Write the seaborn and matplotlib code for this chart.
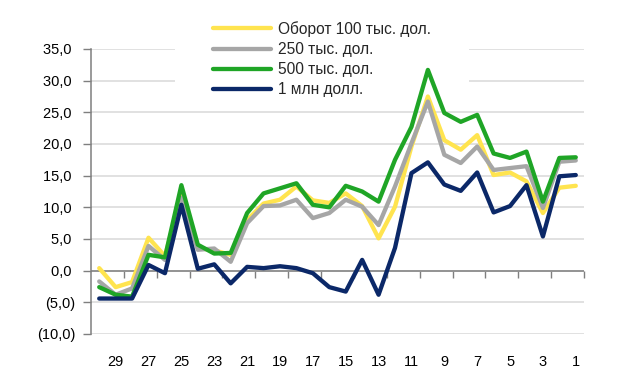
import numpy as np
import pandas as pd
import matplotlib
matplotlib.use('Agg')
import matplotlib.pyplot as plt
import seaborn as sns
from matplotlib.patches import Rectangle

# weeks counted backwards, 30 -> 1
periods = list(range(30, 0, -1))

turnover_100k = [0.4, -2.6, -1.8, 5.2, 2.3, 12.0, 3.6, 3.2, 2.5, 8.0,
                 10.6, 11.2, 13.3, 11.1, 10.7, 12.2, 10.2, 5.1, 10.1, 19.6,
                 27.5, 20.6, 19.1, 21.4, 15.1, 15.5, 14.1, 9.1, 13.1, 13.4]
turnover_250k = [-1.7, -3.8, -2.8, 3.9, 1.7, 11.5, 3.3, 3.5, 1.4, 7.5,
                 10.2, 10.3, 11.2, 8.3, 9.1, 11.2, 10.1, 7.2, 13.3, 20.1,
                 26.7, 18.3, 17.0, 19.6, 15.9, 16.2, 16.5, 9.9, 17.2, 17.4]
turnover_500k = [-2.6, -3.8, -4.1, 2.5, 2.1, 13.5, 4.1, 2.7, 2.8, 9.1,
                 12.2, 13.0, 13.8, 10.4, 10.0, 13.4, 12.5, 10.9, 17.5, 22.7,
                 31.7, 24.9, 23.5, 24.6, 18.5, 17.8, 18.8, 10.9, 17.8, 17.9]
turnover_1m = [-4.4, -4.4, -4.4, 0.9, -0.4, 10.4, 0.3, 1.0, -2.0, 0.6,
               0.4, 0.7, 0.4, -0.4, -2.6, -3.3, 1.7, -3.8, 3.6, 15.4,
               17.1, 13.6, 12.6, 15.5, 9.2, 10.2, 13.5, 5.4, 14.9, 15.1]

labels = ['Оборот 100 тыс. дол.', '250 тыс. дол.', '500 тыс. дол.', '1 млн долл.']
colors = ['#FFE44F', '#A6A6A6', '#1FA526', '#0B2868']
yticks = list(range(-10, 40, 5))

series = [turnover_100k, turnover_250k, turnover_500k, turnover_1m]
df = pd.concat([pd.DataFrame({'pos': np.arange(len(periods)), 'period': periods,
                              'value': vals, 'series': lab})
                for vals, lab in zip(series, labels)], ignore_index=True)

sns.set_style('white')
plt.rcParams['font.family'] = ['Liberation Sans', 'DejaVu Sans']

fig = plt.figure(figsize=(6.3, 3.8), dpi=100)
ax = fig.add_axes([91/630, 1 - 334/380, (584 - 91)/630, (334 - 49)/380])

sns.lineplot(data=df, x='pos', y='value', hue='series', hue_order=labels,
             palette=colors, linewidth=3.1, ax=ax, legend=False, zorder=3)

ax.set_xlim(-0.5, len(periods) - 0.5)
ax.set_ylim(-10, 35)
ax.set_yticks(yticks)
ax.set_yticklabels([f'{v:.1f} '.replace('.', ',') if v >= 0 else
                    f'({abs(v):.1f})'.replace('.', ',') for v in yticks])
ax.yaxis.grid(True, color='#D9D9D9', linewidth=1.1)
ax.set_axisbelow(True)
ax.tick_params(axis='y', length=6, width=1, color='#7F7F7F', pad=5,
               labelsize=10.5, labelcolor='black', left=True)

# category labels at the bottom, every second one
odd_pos = [i for i, p in enumerate(periods) if p % 2 == 1]
ax.set_xticks(odd_pos)
ax.set_xticklabels([str(periods[i]) for i in odd_pos])
ax.tick_params(axis='x', length=0, pad=15, labelsize=10.5, labelcolor='black')
ax.set_xlabel('')
ax.set_ylabel('')

for side in ['top', 'right', 'bottom']:
    ax.spines[side].set_visible(False)
ax.spines['left'].set_color('#7F7F7F')
ax.spines['left'].set_linewidth(1.1)

# zero axis with category boundary ticks
ax.axhline(0, color='#7F7F7F', linewidth=1.1, zorder=2)
sec = ax.secondary_xaxis(10 / 45)
sec.set_xticks([i + 0.5 for i in range(1, len(periods), 2)])
sec.set_xticklabels([])
sec.tick_params(length=5, width=1, color='#7F7F7F', direction='out')
sec.spines['bottom'].set_visible(False)

# legend background hides the upper gridlines
ax.add_patch(Rectangle((175/630, 1 - 100/380), (469 - 175)/630, 100/380,
                       transform=fig.transFigure, facecolor='white',
                       edgecolor='none', zorder=1, clip_on=False))

handles = [plt.Line2D([], [], color=c, linewidth=3.1, solid_capstyle='round')
           for c in colors]
fig.legend(handles, labels, loc='upper left', bbox_to_anchor=(213/630, 1 - 21/380),
           frameon=False, fontsize=11.2, handlelength=3.7, handletextpad=0.45,
           labelspacing=0.33, borderpad=0, borderaxespad=0)

fig.savefig('out.png', dpi=100)
